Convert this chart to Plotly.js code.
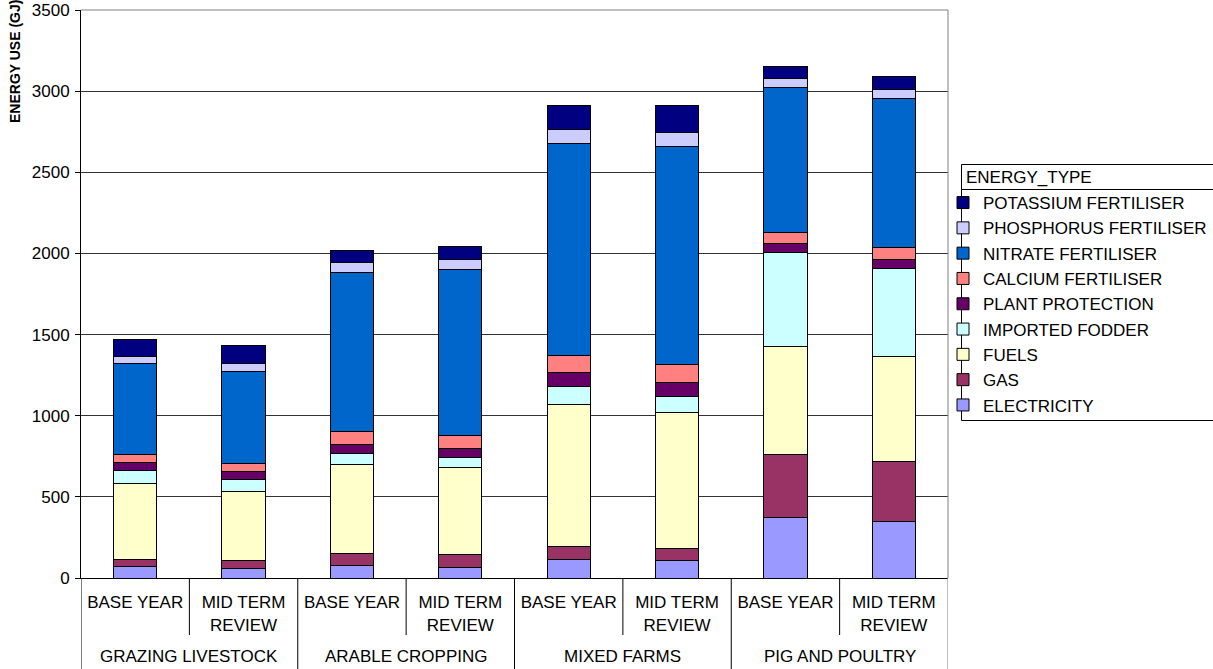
<!DOCTYPE html>
<html>
<head>
<meta charset="utf-8">
<script src="https://cdn.plot.ly/plotly-3.0.1.min.js"></script>
<style>
  html, body { margin: 0; padding: 0; background: #fff; overflow: hidden; }
  #chart { width: 1213px; height: 669px; }
</style>
</head>
<body>
<div id="chart"></div>
<script>
// ---- data ----
const farmTypes = ['GRAZING LIVESTOCK', 'ARABLE CROPPING', 'MIXED FARMS', 'PIG AND POULTRY'];
const periods = ['BASE YEAR', 'MID TERM<br>REVIEW'];
const legendTitle = 'ENERGY_TYPE';

// values per bar: GL-BY, GL-MTR, AC-BY, AC-MTR, MF-BY, MF-MTR, PP-BY, PP-MTR  (GJ)
const electricity = [68, 60, 74, 67, 113, 105, 372, 347];
const gas         = [47, 45, 80, 76, 82, 76, 390, 370];
const fuels       = [466, 426, 543, 540, 876, 839, 667, 646];
const fodder      = [84, 77, 73, 61, 109, 98, 579, 547];
const plantProt   = [47, 51, 50, 56, 86, 88, 52, 53];
const calcium     = [50, 47, 80, 76, 104, 109, 67, 72];
const nitrate     = [560, 569, 985, 1026, 1307, 1344, 894, 922];
const phosphorus  = [45, 45, 60, 61, 89, 88, 55, 55];
const potassium   = [103, 110, 75, 82, 147, 164, 76, 80];

const seriesNames = ['ELECTRICITY', 'GAS', 'FUELS', 'IMPORTED FODDER', 'PLANT PROTECTION',
                     'CALCIUM FERTILISER', 'NITRATE FERTILISER', 'PHOSPHORUS FERTILISER', 'POTASSIUM FERTILISER'];
const seriesValues = [electricity, gas, fuels, fodder, plantProt, calcium, nitrate, phosphorus, potassium];
const seriesColors = ['#9999FF', '#993366', '#FFFFCC', '#CCFFFF', '#660066',
                      '#FF8080', '#0066CC', '#CCCCFF', '#000080'];

// ---- build ----
const xIdx = [];
const tickText = [];
farmTypes.forEach((g, gi) => periods.forEach((p, pi) => { xIdx.push(gi * periods.length + pi); tickText.push(p); }));

const FONT = 'Liberation Sans, Arial, sans-serif';
const FS = 17;

const traces = seriesNames.map((name, i) => ({
  type: 'bar',
  name: name,
  x: xIdx,
  y: seriesValues[i],
  width: 0.4,
  legendgroup: 'g' + i,
  legendrank: 1000 - i,
  marker: { color: seriesColors[i], line: { color: '#000', width: 1 } },
  hoverinfo: 'name+y'
}));

// pixel -> paper helpers (plot area: x 81..948, y 10..578)
const px = v => (v - 81) / 867;
const py = v => (578 - v) / 568;

const nBars = xIdx.length;
const shapes = [];
// frame top & right (grey)
shapes.push({ type: 'line', xref: 'paper', yref: 'paper', x0: 0, x1: 1, y0: 1, y1: 1, line: { color: '#808080', width: 1 } });
shapes.push({ type: 'line', xref: 'paper', yref: 'paper', x0: 1, x1: 1, y0: 1, y1: 0, line: { color: '#808080', width: 1 } });
// sub-category dividers
for (let gi = 0; gi < farmTypes.length; gi++) {
  const xb = gi * periods.length + 0.5;
  shapes.push({ type: 'line', xref: 'x', yref: 'paper', x0: xb, x1: xb, y0: 0, y1: py(635), line: { color: '#000', width: 1 } });
}
// group dividers
for (let gi = 0; gi <= farmTypes.length; gi++) {
  const xb = gi * periods.length - 0.5;
  shapes.push({ type: 'line', xref: 'x', yref: 'paper', x0: xb, x1: xb, y0: 0, y1: py(700), line: { color: gi === farmTypes.length ? '#808080' : '#000', width: 1 } });
}
// legend box and header separator
shapes.push({ type: 'rect', xref: 'paper', yref: 'paper', x0: px(961.5), x1: px(1240), y0: py(164.5), y1: py(420.5), line: { color: '#000', width: 1 }, fillcolor: 'rgba(0,0,0,0)' });
shapes.push({ type: 'line', xref: 'paper', yref: 'paper', x0: px(961.5), x1: px(1240), y0: py(189.5), y1: py(189.5), line: { color: '#000', width: 1 } });

const annotations = farmTypes.map((g, gi) => ({
  text: g, xref: 'x', yref: 'paper', x: gi * periods.length + (periods.length - 1) / 2, y: py(656.7),
  xanchor: 'center', yanchor: 'middle', showarrow: false, font: { family: FONT, size: FS, color: '#000' }
}));
annotations.push({
  text: '<b>ENERGY USE (GJ)</b>', xref: 'paper', yref: 'paper', x: px(15), y: py(62),
  xanchor: 'center', yanchor: 'middle', textangle: -90, showarrow: false,
  font: { family: FONT, size: 14, color: '#000' }
});
annotations.push({
  text: legendTitle, xref: 'paper', yref: 'paper', x: px(964), y: py(177.5),
  xanchor: 'left', yanchor: 'middle', showarrow: false,
  font: { family: FONT, size: FS, color: '#000' }
});

const layout = {
  width: 1213, height: 669,
  margin: { l: 81, r: 265, t: 10, b: 91, pad: 0, autoexpand: false },
  paper_bgcolor: '#fff', plot_bgcolor: '#fff',
  barmode: 'stack',
  font: { family: FONT, size: FS, color: '#000' },
  showlegend: true,
  legend: {
    x: px(943), xanchor: 'left', y: py(185), yanchor: 'top',
    traceorder: 'grouped', tracegroupgap: 0.2,
    borderwidth: 0, bgcolor: 'rgba(0,0,0,0)',
    font: { family: FONT, size: FS, color: '#000' },
    itemwidth: 30
  },
  xaxis: {
    type: 'linear', range: [-0.5, nBars - 0.5],
    tickmode: 'array', tickvals: xIdx, ticktext: tickText,
    ticks: 'outside', ticklen: 9, tickcolor: 'rgba(0,0,0,0)',
    tickfont: { family: FONT, size: FS, color: '#000' },
    showgrid: false, zeroline: false,
    showline: true, linecolor: '#000', linewidth: 1
  },
  yaxis: {
    range: [0, 3500], tickmode: 'linear', tick0: 0, dtick: 500,
    ticks: 'outside', ticklen: 5, tickcolor: '#000', ticklabelstandoff: 2,
    tickfont: { family: FONT, size: FS, color: '#000' },
    showgrid: true, gridcolor: '#333', gridwidth: 1,
    zeroline: false, showline: true, linecolor: '#000', linewidth: 1
  },
  shapes: shapes,
  annotations: annotations
};

Plotly.newPlot('chart', traces, layout, { displayModeBar: false, staticPlot: true });
</script>
</body>
</html>
